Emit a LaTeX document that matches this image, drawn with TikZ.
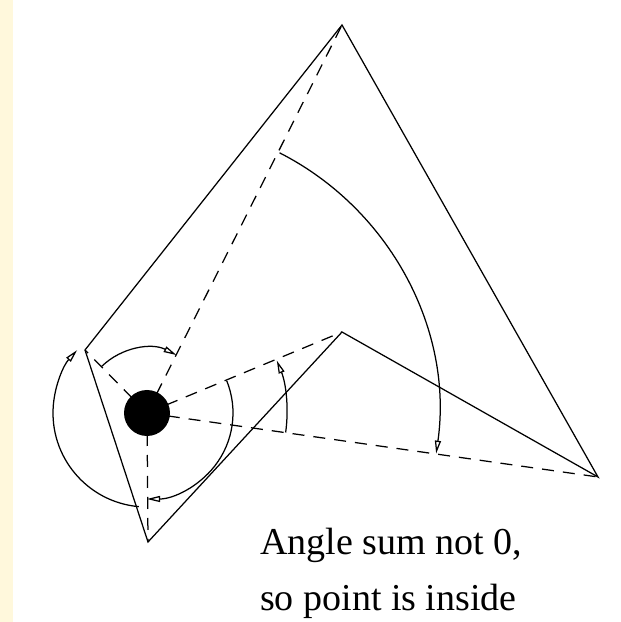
\documentclass[tikz,border=0pt]{standalone}
\usepackage{fontspec}
\setmainfont{Liberation Serif}
\usetikzlibrary{arrows.meta}
\definecolor{stripcolor}{RGB}{255,248,220}

\begin{document}
\begin{tikzpicture}[x=1pt, y=1pt,
    edge/.style={line width=1.25pt, black},
    spoke/.style={line width=1.25pt, dash pattern=on 12pt off 9pt},
    turn/.style={line width=1.25pt, -{Triangle[open, length=13pt, width=6pt]}},
    caption/.style={anchor=base west, inner sep=0pt, font=\fontsize{38}{55}\selectfont}]
      \def\dotradius{23}
      \useasboundingbox (0,0) rectangle (621,622);
      \fill[stripcolor] (0,0) rectangle (13,622);

      \coordinate (p) at (147,209);
      \coordinate (v1) at (342,597);
      \coordinate (v2) at (598,145);
      \coordinate (v3) at (342,290);
      \coordinate (v4) at (148,80);
      \coordinate (v5) at (85,272);

      \draw[edge] (v1) -- (v2) -- (v3) -- (v4) -- (v5) -- cycle;
      \foreach \v in {v1,v2,v3,v4,v5} {
        \draw[spoke] (p) -- (\v);
      }
      \fill[black] (p) circle (\dotradius);

      \foreach \a/\b/\r in {134/63/65, 63/-8/292, -8/22/140, 22/-90/86, 265/138/94} {
        \draw[turn] ([shift={(\a:\r)}]p) arc[start angle=\a, end angle=\b, radius=\r];
      }

      \node[caption] (line1) at (260,67) {Angle sum not 0,};
      \node[caption] (line2) at (260,12) {so point is inside};
    \end{tikzpicture}
\end{document}
